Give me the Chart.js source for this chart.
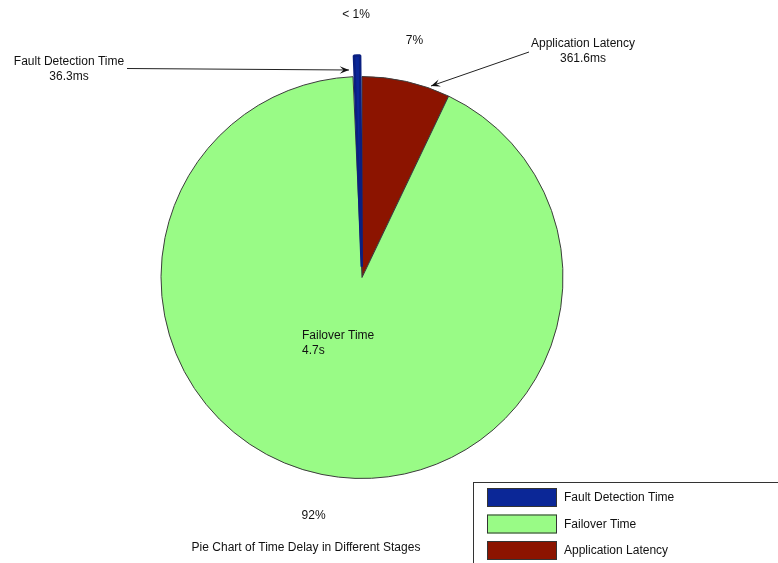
<!DOCTYPE html>
<html>
<head>
<meta charset="utf-8">
<script src="https://cdn.jsdelivr.net/npm/chart.js@4"></script>
<style>
  html, body { margin: 0; padding: 0; background: #fff; }
  canvas { display: block; }
</style>
</head>
<body>
<canvas id="delayPie" width="778" height="563"></canvas>
<script>
// time spent in each stage (ms)
const stages = ['Fault Detection Time', 'Failover Time', 'Application Latency'];
const delaysMs = [36.3, 4700, 361.6];
const delayLabels = ['36.3ms', '4.7s', '361.6ms'];
const stageColors = ['#0b2797', '#99fb86', '#8c1400'];
const explode = [43, 0, 0];

// the pie runs clockwise from 12 o'clock: latency, failover, then detection
const order = [2, 1, 0];

const total = delaysMs.reduce((a, b) => a + b, 0);
const pctText = v => {
  const p = v / total * 100;
  return p < 1 ? '< 1%' : Math.round(p) + '%';
};

const FONT = '12px "Liberation Sans", Arial, sans-serif';

function arrow(ctx, x0, y0, x1, y1) {
  ctx.beginPath();
  ctx.moveTo(x0, y0);
  ctx.lineTo(x1, y1);
  ctx.stroke();
  const a = Math.atan2(y1 - y0, x1 - x0);
  const len = 10, w = 0.38;
  ctx.beginPath();
  ctx.moveTo(x1, y1);
  ctx.lineTo(x1 - len * Math.cos(a - w), y1 - len * Math.sin(a - w));
  ctx.lineTo(x1 - len * 0.55 * Math.cos(a), y1 - len * 0.55 * Math.sin(a));
  ctx.lineTo(x1 - len * Math.cos(a + w), y1 - len * Math.sin(a + w));
  ctx.closePath();
  ctx.fill();
}

// labels, leader arrows, title and boxed legend
const annotations = {
  id: 'annotations',
  afterDraw(chart) {
    const ctx = chart.ctx;
    const arcs = chart.getDatasetMeta(0).data;
    const cx = arcs[0].x, cy = arcs[0].y, r = arcs[0].outerRadius;
    ctx.save();
    ctx.font = FONT;
    ctx.fillStyle = '#111';
    ctx.strokeStyle = '#222';
    ctx.lineWidth = 1;
    ctx.textBaseline = 'middle';

    // percentages, placed out along each slice's middle
    ctx.textAlign = 'center';
    const pos = (stage, dr, dy) => {
      const el = arcs[order.indexOf(stage)];
      const m = (el.startAngle + el.endAngle) / 2;
      return [cx + (r + dr) * Math.cos(m), cy + (r + dr) * Math.sin(m) + dy];
    };
    ctx.fillText(pctText(delaysMs[0]), ...pos(0, 62, 0));
    ctx.fillText(pctText(delaysMs[2]), ...pos(2, 36, -6));
    ctx.fillText(pctText(delaysMs[1]), ...pos(1, 42, 0));

    // stage names with values
    ctx.fillText(stages[0], 69, 62);
    ctx.fillText(delayLabels[0], 69, 77);
    ctx.fillText(stages[2], 583, 44);
    ctx.fillText(delayLabels[2], 583, 59);
    ctx.textAlign = 'left';
    ctx.fillText(stages[1], cx - 60, cy + 58);
    ctx.fillText(delayLabels[1], cx - 60, cy + 73);

    ctx.fillStyle = '#111';
    arrow(ctx, 127, 68.5, 349, 70);
    arrow(ctx, 529, 52, 431, 86);

    // title
    ctx.textAlign = 'center';
    ctx.fillText('Pie Chart of Time Delay in Different Stages', 306, 548);

    // legend box
    ctx.strokeStyle = '#333';
    ctx.strokeRect(473.5, 482.5, 330, 100);
    stages.forEach((s, i) => {
      const y = 488 + i * 26.5;
      ctx.fillStyle = stageColors[i];
      ctx.fillRect(487, y, 70, 19);
      ctx.strokeStyle = '#333';
      ctx.strokeRect(487.5, y + 0.5, 69, 18);
      ctx.fillStyle = '#111';
      ctx.textAlign = 'left';
      ctx.fillText(s, 564, y + 10);
    });
    ctx.restore();
  }
};

const pieChart = new Chart(document.getElementById('delayPie'), {
  type: 'pie',
  data: {
    labels: order.map(i => stages[i]),
    datasets: [{
      data: order.map(i => delaysMs[i]),
      backgroundColor: order.map(i => stageColors[i]),
      offset: order.map(i => explode[i]),
      borderColor: order.map(i => i === 0 ? '#0a1f80' : '#3c3c3c'),
      borderWidth: order.map(i => i === 0 ? 2.5 : 1)
    }]
  },
  options: {
    responsive: false,
    animation: false,
    events: [],
    radius: 201,
    layout: { padding: { left: 0, top: 0, right: 54, bottom: 8 } },
    plugins: {
      legend: { display: false },
      tooltip: { enabled: false }
    }
  },
  plugins: [annotations]
});
</script>
</body>
</html>
